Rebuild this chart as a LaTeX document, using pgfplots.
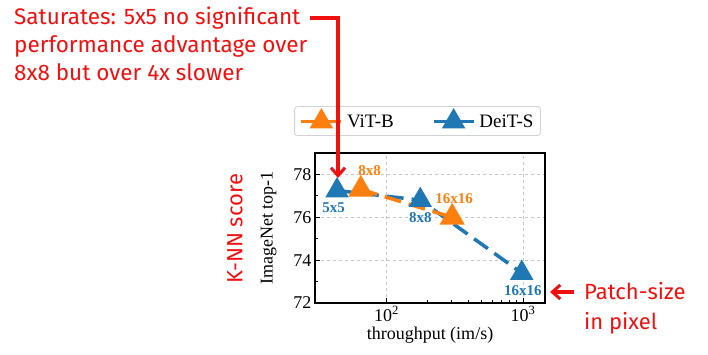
\documentclass[border=0pt]{standalone}
\usepackage{pgfplots}
\pgfplotsset{compat=1.18}
\usetikzlibrary{arrows.meta}
\usepackage{fontspec}
\setmainfont{Liberation Serif}
\newfontfamily\hand{Fira Sans}
\definecolor{mplorange}{HTML}{FF7F0E}
\definecolor{mplblue}{HTML}{1F77B4}
\definecolor{annred}{HTML}{F01010}
\begin{document}
\begin{tikzpicture}
\useasboundingbox (0pt,0pt) rectangle (708pt,354pt);
\begin{axis}[
  at={(315pt,51pt)}, anchor=south west,
  scale only axis, width=230pt, height=150pt,
  xmode=log, xmin=30, xmax=1450, ymin=72, ymax=79,
  xtick={100,1000}, xticklabels={10\textsuperscript{2},10\textsuperscript{3}},
  ytick={72,74,76,78}, minor ytick={73,75,77},
  xtick pos=bottom, ytick pos=left,
  /pgf/number format/assume math mode=true,
  tick label style={font=\fontsize{18}{20}\selectfont},
  label style={font=\fontsize{18}{20}\selectfont},
  xlabel={throughput (im/s)}, ylabel={ImageNet top-1},
  xlabel style={yshift=1pt},
  ylabel style={yshift=10pt},
  grid=major, major grid style={dashed, gray!45, line width=0.6pt},
  axis line style={black, line width=1.1pt},
  major tick length=5pt, minor tick length=3pt,
  tick style={black, line width=0.8pt},
  clip=false,
  legend columns=2,
  legend style={at={(0.446,1.213)}, anchor=center, draw=gray!35, line width=0.8pt,
    rounded corners=3pt, font=\fontsize{19}{22}\selectfont,
    inner xsep=5pt, inner ysep=5pt,
    /tikz/every odd column/.append style={column sep=2pt},
    /tikz/every even column/.append style={column sep=36pt}},
  legend image code/.code={\draw[#1, mark repeat=2, mark phase=2, solid] plot coordinates {(0pt,0pt)(20pt,0pt)(40pt,0pt)};},
]
\addlegendimage{mplorange, line width=3.5pt, mark=triangle*, mark size=10pt, mark options={solid}}
\addlegendentry{ViT-B}
\addplot[mplblue, line width=3.5pt, dash pattern=on 17pt off 8pt, mark=triangle*, mark size=10pt, mark options={solid}]
  coordinates {(43.5,77.25) (177,76.8) (980,73.4)};
\addlegendentry{DeiT-S}
\addplot[mplorange, line width=3.5pt, dash pattern=on 17pt off 8pt, mark=triangle*, mark size=11pt, mark options={solid}, forget plot]
  coordinates {(64.9,77.3) (303,76.0)};
\node[font=\fontsize{15}{17}\selectfont\bfseries, text=mplblue] at (axis cs:41,76.43) {5x5};
\node[font=\fontsize{15}{17}\selectfont\bfseries, text=mplblue] at (axis cs:177,76.0) {8x8};
\node[font=\fontsize{15}{17}\selectfont\bfseries, text=mplblue] at (axis cs:1000,72.6) {16x16};
\node[font=\fontsize{15}{17}\selectfont\bfseries, text=mplorange] at (axis cs:75.2,78.16) {8x8};
\node[font=\fontsize{15}{17}\selectfont\bfseries, text=mplorange] at (axis cs:313,76.85) {16x16};
\end{axis}
\node[anchor=north west, align=left, text=annred, font=\hand\fontsize{22.5}{28}\selectfont, inner sep=0pt] at (14pt,347pt)
  {Saturates: 5x5 no significant\\performance advantage over\\8x8 but over 4x slower};
\draw[annred, line width=3.5pt, -{Straight Barb[length=8pt,width=14pt,line width=3pt]}] (310pt,336pt) -- (338pt,336pt) -- (338pt,176pt);
\draw[annred, line width=3.5pt, -{Straight Barb[length=8pt,width=14pt,line width=3pt]}] (574pt,62pt) -- (550pt,62pt);
\node[rotate=90, text=annred, font=\hand\fontsize{22}{24}\selectfont] at (235pt,125pt) {K-NN score};
\node[anchor=west, align=left, text=annred, font=\hand\fontsize{22}{30}\selectfont, inner sep=0pt] at (584pt,46pt) {Patch-size\\in pixel};
\end{tikzpicture}
\end{document}
